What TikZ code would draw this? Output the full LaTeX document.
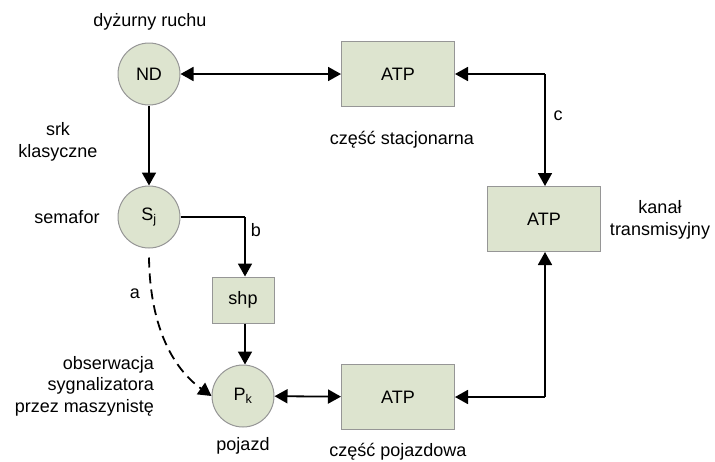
\documentclass[tikz,border=0pt]{standalone}
\usepackage{fontspec}
\setmainfont{Liberation Sans}
\usetikzlibrary{arrows.meta}
\definecolor{boxfill}{RGB}{221,228,207}
\definecolor{boxdraw}{RGB}{150,150,150}
\begin{document}
\begin{tikzpicture}[x=1pt,y=-1pt,
  every node/.style={font=\fontsize{18}{21.5}\selectfont},
  circ/.style={circle,draw=boxdraw,fill=boxfill,line width=1pt,minimum size=62pt,inner sep=0pt},
  atpbox/.style={rectangle,draw=boxdraw,fill=boxfill,line width=1pt,minimum width=113pt,minimum height=65pt,inner sep=0pt},
  shpbox/.style={rectangle,draw=boxdraw,fill=boxfill,line width=1pt,minimum width=62pt,minimum height=46pt,inner sep=0pt},
  tip/.tip={Triangle[length=13pt,width=14pt]},
  conn/.style={line width=1.8pt,-tip},
  bconn/.style={line width=1.8pt,tip-tip},
  lbl/.style={align=center,inner sep=0pt}]
\useasboundingbox (0,0) rectangle (715,461);
\node[circ] (nd) at (149,74) {ND};
\node[atpbox] (atp1) at (398,74) {ATP};
\node[circ] (sj) at (149,217) {S\textsubscript{j}};
\node[shpbox] (shp) at (243,300) {shp};
\node[circ] (pk) at (243,396) {P\textsubscript{k}};
\node[atpbox] (atp3) at (398,397) {ATP};
\node[atpbox] (atp2) at (544,219) {ATP};
\coordinate (c1) at (545,74);
\coordinate (c2) at (545,397);
\coordinate (b1) at (245,217);

\draw[bconn] (nd) -- (atp1);
\draw[conn] (nd) -- (sj);
\draw[line width=1.8pt] (sj.east) -- (b1);
\draw[conn] (b1) -- (shp.north -| b1);
\draw[conn] (shp.south -| b1) -- (pk.north -| b1);
\draw[bconn] (pk) -- (atp3);
\draw[line width=1.8pt,tip-] (atp1.east) -- (c1);
\draw[conn] (c1) -- (atp2.north -| c1);
\draw[line width=1.8pt,tip-] (atp3.east) -- (c2);
\draw[conn] (c2) -- (atp2.south -| c2);
\draw[conn,dash pattern=on 10pt off 6pt] ([yshift=-9pt]sj.south) .. controls (150,330) and (175,370) .. (pk.west);

\node[lbl] (t1) at (150,22) {dyżurny ruchu};
\node[lbl] (t2) at (58,142) {srk\\klasyczne};
\node[lbl] (t3) at (67,217) {semafor};
\node[lbl] (t4) at (256,230) {b};
\node[lbl] (t5) at (135,294) {a};
\node[lbl,align=right,anchor=east] (t6) at (154,386) {obserwacja\\sygnalizatora\\przez maszynistę};
\node[lbl] (t7) at (243,446) {pojazd};
\node[lbl] (t8) at (402,140) {część stacjonarna};
\node[lbl] (t9) at (558,116) {c};
\node[lbl] (t10) at (660,220) {kanał\\transmisyjny};
\node[lbl] (t11) at (398,452) {część pojazdowa};
\end{tikzpicture}
\end{document}
